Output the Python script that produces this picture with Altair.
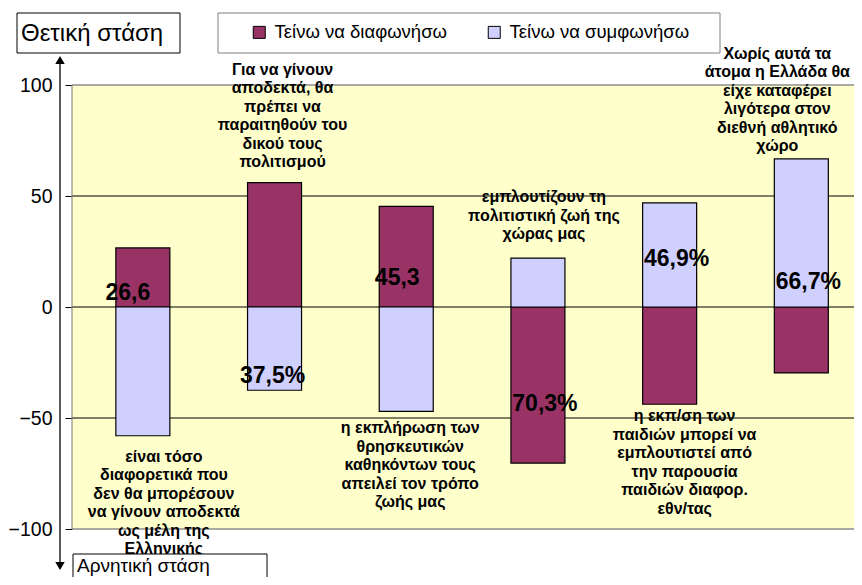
import altair as alt
import pandas as pd

# ---- data -----------------------------------------------------------------
categories = [
    "είναι τόσο\nδιαφορετικά που\nδεν θα μπορέσουν\nνα γίνουν αποδεκτά\nως μέλη της\nΕλληνικής",
    "Για να γίνουν\nαποδεκτά, θα\nπρέπει να\nπαραιτηθούν του\nδικού τους\nπολιτισμού",
    "η εκπλήρωση των\nθρησκευτικών\nκαθηκόντων τους\nαπειλεί τον τρόπο\nζωής μας",
    "εμπλουτίζουν τη\nπολιτιστική ζωή της\nχώρας μας",
    "η εκπ/ση των\nπαιδιών μπορεί να\nεμπλουτιστεί από\nτην παρουσία\nπαιδιών διαφορ.\nεθν/τας",
    "Χωρίς αυτά τα\nάτομα η Ελλάδα θα\nείχε καταφέρει\nλιγότερα στον\nδιεθνή αθλητικό\nχώρο",
]
disagree = [26.6, 56.0, 45.3, -70.3, -43.8, -29.7]   # Τείνω να διαφωνήσω
agree = [-58.0, -37.5, -47.0, 22.0, 46.9, 66.7]      # Τείνω να συμφωνήσω
value_labels = ["26,6", "37,5%", "45,3", "70,3%", "46,9%", "66,7%"]
label_side = ["below", "above", "below", "above", "below", "above"]
series_names = ["Τείνω να διαφωνήσω", "Τείνω να συμφωνήσω"]
y_ticks = [-100, -50, 0, 50, 100]
grid_values = [-50, 0, 50]
border_values = [-100, 100]

# ---- styling ----------------------------------------------------------------
FONT = "Liberation Sans"
W, H = 782, 444
MAROON = "#993366"
LAV = "#D0D0FF"

rows = []
for i in range(len(categories)):
    rows.append({"idx": i, "series": series_names[0], "value": disagree[i]})
    rows.append({"idx": i, "series": series_names[1], "value": agree[i]})
df = pd.DataFrame(rows)

xscale = alt.Scale(domain=[-0.5, 5.362], nice=False, zero=False)
yscale = alt.Scale(domain=[-100, 100], nice=False)
yaxis = alt.Axis(
    values=y_ticks, domain=False, grid=False, ticks=True, tickColor="black",
    tickSize=7, tickWidth=1, labelPadding=13, labelFont=FONT, labelFontSize=19.5,
    labelColor="black", title=None,
)

X = alt.X("idx:Q", scale=xscale, axis=None)

grid = alt.Chart(pd.DataFrame({"g": grid_values})).mark_rule(
    color="black", strokeWidth=1
).encode(y=alt.Y("g:Q", scale=yscale, axis=yaxis))

border = alt.Chart(pd.DataFrame({"b": border_values})).mark_rule(
    color="#8c8c8c", strokeWidth=1.5
).encode(y=alt.Y("b:Q", scale=yscale, axis=yaxis))

one = pd.DataFrame({"a": [0]})
left_border = alt.Chart(one).mark_rule(color="#8c8c8c", strokeWidth=1.2).encode(
    x=alt.value(0), y=alt.value(0), y2=alt.value(H))

bars = alt.Chart(df).mark_bar(
    size=54, stroke="black", strokeWidth=1.2, orient="vertical"
).encode(
    x=X,
    y=alt.Y("value:Q", scale=yscale, axis=yaxis),
    y2=alt.datum(0),
    color=alt.Color(
        "series:N",
        scale=alt.Scale(domain=series_names, range=[MAROON, LAV]),
        legend=alt.Legend(
            orient="none", legendX=178, legendY=-62, direction="horizontal",
            columns=2, title=None, symbolType="square", symbolSize=144,
            symbolStrokeColor="black", symbolStrokeWidth=1, labelFont=FONT,
            labelFontSize=18.5, labelColor="black", labelOffset=6,
            columnPadding=38, labelLimit=400,
        ),
    ),
)

# value labels (manual placements as in the original)
val_dx = [-15, -2, -9, 7, 7, 7]
val_dy = [-7, 76, -22, 104, -41, -18]
val_layers = []
for i, lab in enumerate(value_labels):
    d = pd.DataFrame({"idx": [i], "zero": [0.0], "t": [lab]})
    val_layers.append(
        alt.Chart(d).mark_text(
            font=FONT, fontSize=23, fontWeight="bold", color="black",
            baseline="alphabetic", align="center", dx=val_dx[i], dy=val_dy[i],
        ).encode(x=X, y=alt.Y("zero:Q", scale=yscale, axis=yaxis), text="t:N")
    )

# category texts: first-line baseline offset from the outer bar end
cat_dx = [21, 8, 4, 6, 15, -24]
cat_dy = [26, -108, 22, -56, 17, -100]
cat_layers = []
for i, txt in enumerate(categories):
    if label_side[i] == "above":
        anchor = max(disagree[i], agree[i])
    else:
        anchor = min(disagree[i], agree[i])
    d = pd.DataFrame({"idx": [i], "anchor": [anchor], "t": [txt]})
    cat_layers.append(
        alt.Chart(d).mark_text(
            font=FONT, fontSize=16, fontWeight="bold", color="black",
            baseline="alphabetic", align="center", lineBreak="\n", lineHeight=18.5,
            dx=cat_dx[i], dy=cat_dy[i],
        ).encode(x=X, y=alt.Y("anchor:Q", scale=yscale, axis=yaxis), text="t:N")
    )

# annotation boxes / arrow outside the plot
box_pos = alt.Chart(one).mark_rect(fill="white", stroke="black", strokeWidth=1).encode(
    x=alt.value(-55), x2=alt.value(108), y=alt.value(-72), y2=alt.value(-32))
txt_pos = alt.Chart(one).mark_text(
    font=FONT, fontSize=24, align="left", baseline="middle", color="black"
).encode(x=alt.value(-51), y=alt.value(-51), text=alt.value("Θετική στάση"))
box_leg = alt.Chart(one).mark_rect(fill="white", stroke="#808080", strokeWidth=1).encode(
    x=alt.value(146), x2=alt.value(648), y=alt.value(-72), y2=alt.value(-32))
box_neg = alt.Chart(one).mark_rect(fill="white", stroke="black", strokeWidth=1).encode(
    x=alt.value(1), x2=alt.value(195), y=alt.value(469), y2=alt.value(515))
txt_neg = alt.Chart(one).mark_text(
    font=FONT, fontSize=19, align="left", baseline="alphabetic", color="black"
).encode(x=alt.value(5), y=alt.value(487), text=alt.value("Αρνητική στάση"))
arrow = alt.Chart(one).mark_rule(color="black", strokeWidth=1.3).encode(
    x=alt.value(-12), y=alt.value(-25), y2=alt.value(478))
head_up = alt.Chart(one).mark_point(
    shape="triangle-up", filled=True, color="black", size=90, opacity=1
).encode(x=alt.value(-12), y=alt.value(-25))
head_dn = alt.Chart(one).mark_point(
    shape="triangle-down", filled=True, color="black", size=90, opacity=1
).encode(x=alt.value(-12), y=alt.value(481))

chart = alt.layer(
    grid, border, left_border, bars, *val_layers, *cat_layers,
    box_pos, txt_pos, box_leg, box_neg, txt_neg, arrow, head_up, head_dn,
).properties(
    width=W, height=H,
    autosize=alt.AutoSizeParams(type="none"),
    padding={"left": 64, "top": 77, "right": 0, "bottom": 48},
    background="white",
).configure_view(
    fill="#FFFFCC", stroke="transparent", strokeWidth=0
)

chart.save("out.html", embed_options={"renderer": "svg", "actions": False})
